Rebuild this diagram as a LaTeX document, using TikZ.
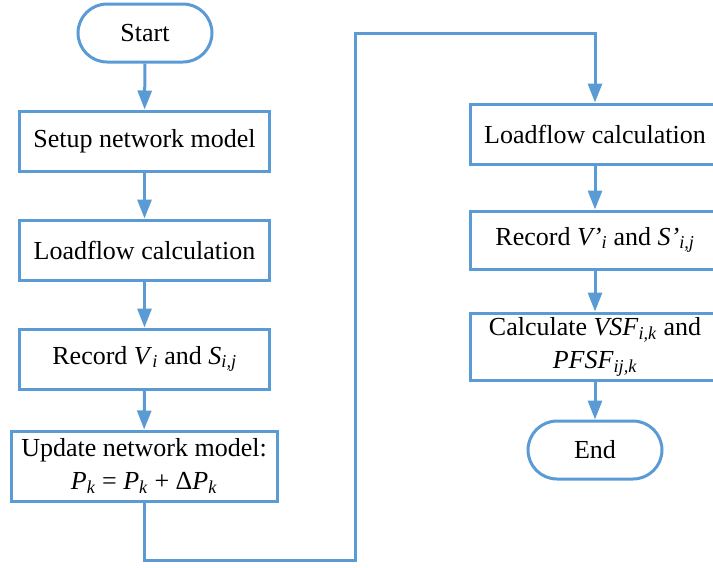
\documentclass[tikz,border=0pt]{standalone}
\usepackage{fontspec}
\setmainfont{Liberation Serif}
\usetikzlibrary{arrows.meta}
\definecolor{flowblue}{RGB}{91,155,213}
\newcommand{\var}[2]{\textit{#1}\textsubscript{\textit{#2}}}
\tikzset{
  every node/.style={font=\fontsize{26}{33}\selectfont, text=black},
  procbox/.style={draw=flowblue, line width=3pt, fill=white, align=center,
    minimum width=250pt, minimum height=60pt, inner sep=2pt},
  termbox/.style={draw=flowblue, line width=3pt, fill=white,
    rounded corners=29pt, minimum width=134pt, minimum height=58pt, inner sep=2pt},
  flow/.style={draw=flowblue, line width=3pt,
    -{Triangle[length=19pt,width=14pt]}},
}
\begin{document}
\begin{tikzpicture}[x=1pt,y=-1pt]
\useasboundingbox (0,0) rectangle (713,568);

% left column
\node[termbox] (start) at (145,33) {Start};
\node[procbox] (setup) at (144.5,141) {Setup network model};
\node[procbox] (lfa) at (144.5,250) {Loadflow calculation};
\node[procbox] (reca) at (144.5,359) {Record \var{V}{i} and \var{S}{i,j}};
\node[procbox, minimum width=266pt, minimum height=70pt] (upd) at (144,466)
  {Update network model:\\ \var{P}{k} = \var{P}{k} + Δ\var{P}{k}};

% right column
\node[procbox] (lfb) at (595,134) {Loadflow calculation};
\node[procbox, minimum height=58pt] (recb) at (595,240)
  {Record \textit{V’}\textsubscript{\textit{i}} and \textit{S’}\textsubscript{\textit{i,j}}};
\node[procbox, minimum height=67pt] (calc) at (595,346.5)
  {Calculate \var{VSF}{i,k} and\\ \var{PFSF}{ij,k}};
\node[termbox] (end) at (595,450) {End};

% bends of the loop from the left column to the right one
\coordinate (b1) at (144,560);
\coordinate (b2) at (355,560);
\coordinate (b3) at (355,33);
\coordinate (b4) at (595,33);

\draw[flow] (start) -- (setup);
\draw[flow] (setup) -- (lfa);
\draw[flow] (lfa) -- (reca);
\draw[flow] (reca) -- (upd);
\draw[flow] (upd.south) -- (b1) -- (b2) -- (b3) -- (b4) -- (lfb.north);
\draw[flow] (lfb) -- (recb);
\draw[flow] (recb) -- (calc);
\draw[flow] (calc) -- (end);
\end{tikzpicture}
\end{document}
